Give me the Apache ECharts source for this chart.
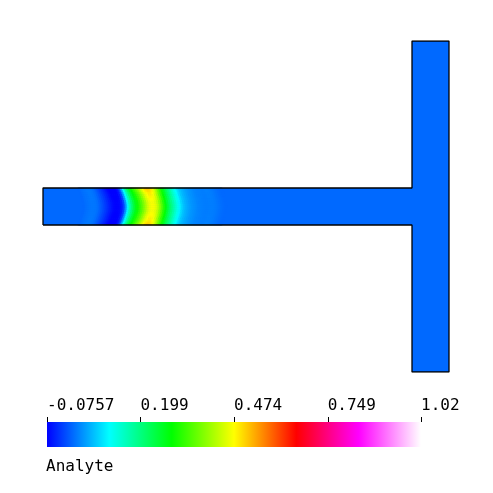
<!DOCTYPE html>
<html>
<head>
<meta charset="utf-8">
<script src="https://cdn.jsdelivr.net/npm/echarts@6/dist/echarts.min.js"></script>
<style>
  html, body { margin: 0; padding: 0; background: #fff; }
  #chart { width: 493px; height: 493px; }
</style>
</head>
<body>
<div id="chart"></div>
<script>
// colour scale of the field
var scaleMin = -0.0757;
var scaleMax = 1.0233;
var colorMap = ['#0000ff', '#00ffff', '#00ff00', '#ffff00', '#ff0000', '#ff00ff', '#ffffff'];
var tickValues = [-0.0757, 0.199, 0.474, 0.749, 1.0233];
var tickLabels = ['-0.0757', '0.199', '0.474', '0.749', '1.02'];
var legendName = 'Analyte';

// T channel outline (x along inlet, y up from bottom of side channel)
var outlineX = [0, 0, 369, 369, 406, 406, 369, 369, 0];
var outlineY = [147, 184, 184, 331, 331, 0, 0, 147, 147];
var baseValue = 0;

// analyte along the channel centre line, sampled every 2 units from x = 41
var sampleStart = 41;
var centreProfile = [
  0.000, 0.003, 0.006, 0.008, 0.010, 0.010, 0.008, 0.003, -0.005, -0.015,
  -0.025, -0.035, -0.045, -0.055, -0.065, -0.072, -0.075, -0.075, -0.072, -0.060,
  -0.030, 0.030, 0.100, 0.160, 0.205, 0.245, 0.275, 0.300, 0.325, 0.350,
  0.380, 0.410, 0.440, 0.460, 0.470, 0.468, 0.455, 0.430, 0.395, 0.355,
  0.318, 0.285, 0.252, 0.222, 0.195, 0.170, 0.145, 0.122, 0.100, 0.080,
  0.064, 0.053, 0.045, 0.038, 0.032, 0.028, 0.024, 0.020, 0.018, 0.016,
  0.015, 0.014, 0.014, 0.015, 0.015, 0.014, 0.012, 0.009, 0.006, 0.003,
  0.001, 0.000
];
// front lag and peak gain across the channel, wall to wall
var rowShift = [5, 4, 3.2, 2.5, 1.9, 1.3, 0.8, 0.4, 0.1, 0, 0.1, 0.4, 0.8, 1.3, 1.9, 2.5, 3.2, 4, 5];
var rowGain = [1.08, 1.06, 1.04, 1.03, 1.02, 1.01, 1, 1, 1, 1, 1, 1, 1, 1.01, 1.02, 1.03, 1.04, 1.06, 1.08];

var CELL_W = 2;
var TICK_LEN = 5;
var chanBottom = 147, chanTop = 184;
var ROW_H = (chanTop - chanBottom) / rowShift.length;

var cells = [];
rowShift.forEach(function (shift, r) {
  var y = chanBottom + ROW_H * (r + 0.5);
  centreProfile.forEach(function (v, i) {
    cells.push([sampleStart + i * CELL_W - shift, y, v * rowGain[r]]);
  });
});

var outline = outlineX.map(function (x, i) { return [x, outlineY[i]]; });

var fontFamily = '"DejaVu Sans Mono", monospace';

var myChart = echarts.init(document.getElementById('chart'));
myChart.setOption({
  backgroundColor: '#fff',
  animation: false,
  title: {
    text: legendName,
    left: 46,
    top: 459,
    padding: 0,
    textStyle: { fontFamily: fontFamily, fontSize: 16, fontWeight: 'normal', color: '#000' }
  },
  grid: [
    { left: 43, top: 41, width: 406, height: 331 },
    { left: 47, top: 422, width: 374, height: 25 }
  ],
  xAxis: [
    { type: 'value', gridIndex: 0, min: 0, max: 406, show: false },
    {
      type: 'value', gridIndex: 1, min: scaleMin, max: scaleMax, position: 'top',
      axisLine: { show: false },
      splitLine: { show: false },
      axisTick: { show: false },
      axisLabel: {
        customValues: tickValues,
        align: 'left',
        margin: 8,
        color: '#000',
        fontFamily: fontFamily,
        fontSize: 16,
        formatter: function (v) {
          var i = tickValues.indexOf(v);
          return i >= 0 ? tickLabels[i] : '';
        }
      }
    }
  ],
  yAxis: [
    { type: 'value', gridIndex: 0, min: 0, max: 331, show: false },
    { type: 'value', gridIndex: 1, min: 0, max: 1, show: false }
  ],
  visualMap: {
    type: 'continuous',
    show: false,
    min: scaleMin,
    max: scaleMax,
    dimension: 2,
    seriesIndex: [0, 1],
    inRange: { color: colorMap }
  },
  series: [
    {
      type: 'custom',
      xAxisIndex: 0, yAxisIndex: 0,
      silent: true,
      data: [[0, 0, baseValue]],
      renderItem: function (params, api) {
        return {
          type: 'polygon',
          shape: { points: outline.map(function (p) { return api.coord(p); }) },
          style: { fill: api.visual('color') }
        };
      }
    },
    {
      type: 'custom',
      xAxisIndex: 0, yAxisIndex: 0,
      silent: true,
      data: cells,
      renderItem: function (params, api) {
        var p = api.coord([api.value(0), api.value(1)]);
        var s = api.size([CELL_W, ROW_H]);
        return {
          type: 'rect',
          shape: { x: p[0] - s[0] / 2 - 0.3, y: p[1] - s[1] / 2 - 0.3, width: s[0] + 0.6, height: s[1] + 0.6 },
          style: { fill: api.visual('color') }
        };
      }
    },
    {
      type: 'line',
      xAxisIndex: 0, yAxisIndex: 0,
      silent: true,
      symbol: 'none',
      z: 5,
      data: outline,
      lineStyle: { color: '#000', width: 1.3 }
    },
    {
      // colour bar
      type: 'custom',
      xAxisIndex: 1, yAxisIndex: 1,
      silent: true,
      data: [[scaleMin, 0], [scaleMax, 1]],
      renderItem: function (params, api) {
        if (params.dataIndex !== 0) return null;
        var a = api.coord([scaleMin, 1]);
        var b = api.coord([scaleMax, 0]);
        var stops = colorMap.map(function (c, i) {
          return { offset: i / (colorMap.length - 1), color: c };
        });
        return {
          type: 'rect',
          shape: { x: a[0], y: a[1], width: b[0] - a[0], height: b[1] - a[1] },
          style: { fill: new echarts.graphic.LinearGradient(0, 0, 1, 0, stops) }
        };
      }
    },
    {
      // tick marks above the colour bar
      type: 'custom',
      xAxisIndex: 1, yAxisIndex: 1,
      silent: true,
      data: tickValues.map(function (v) { return [v, 1]; }),
      renderItem: function (params, api) {
        var p = api.coord([api.value(0), 1]);
        var x = Math.round(p[0]) + 0.5;
        return {
          type: 'line',
          shape: { x1: x, y1: p[1], x2: x, y2: p[1] - TICK_LEN },
          style: { stroke: '#000', lineWidth: 1 }
        };
      }
    }
  ]
});
</script>
</body>
</html>
